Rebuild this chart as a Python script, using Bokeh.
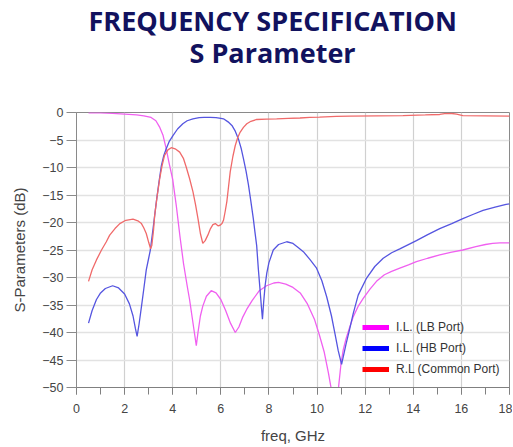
from bokeh.plotting import figure
from bokeh.models import Title, Legend, LegendItem, SingleIntervalTicker, Range1d
from bokeh.embed import file_html
from bokeh.resources import INLINE

# ---- data ----
lb_freq = [0.5, 1.0, 1.5, 2.0, 2.5, 2.8, 3.1, 3.3, 3.45, 3.6, 3.73, 3.85, 4.0, 4.15, 4.3,
           4.45, 4.6, 4.7, 4.8, 4.9, 4.98, 5.05, 5.15, 5.25, 5.4, 5.6, 5.8, 6.0, 6.2, 6.4,
           6.6, 6.75, 6.9, 7.1, 7.3, 7.6, 7.9, 8.2, 8.4, 8.7, 9.0, 9.3, 9.6, 9.9, 10.1,
           10.3, 10.47, 10.6, 10.7, 10.76, 10.82, 10.88, 11.0, 11.09, 11.2, 11.36, 11.5,
           11.7, 11.92, 12.2, 12.47, 12.8, 13.1, 13.44, 13.8, 14.13, 14.6, 15.1, 15.6,
           16.06, 16.6, 17.0, 17.3, 17.6, 18.0]
lb_db = [-0.05, -0.08, -0.15, -0.3, -0.45, -0.6, -0.9, -1.5, -2.6, -4.2, -6.6, -9.2, -12.2,
         -17.0, -22.5, -27.5, -31.5, -34.0, -37.0, -40.0, -42.4, -40.0, -37.0, -35.2, -33.4,
         -32.4, -32.8, -34.0, -36.0, -38.3, -40.0, -39.0, -37.3, -35.6, -34.2, -32.4, -31.5,
         -31.0, -30.9, -31.2, -31.8, -32.8, -34.8, -37.7, -40.5, -43.6, -47.3, -50.5, -54.0,
         -58.0, -55.0, -50.5, -45.5, -43.1, -41.2, -39.0, -37.2, -35.3, -33.8, -32.1, -30.7,
         -29.5, -28.9, -28.3, -27.7, -27.1, -26.5, -25.9, -25.4, -25.0, -24.4, -24.0, -23.8,
         -23.7, -23.7]

hb_freq = [0.5, 0.65, 0.83, 1.0, 1.2, 1.5, 1.75, 2.0, 2.2, 2.35, 2.45, 2.52, 2.6, 2.7, 2.8,
           2.9, 3.0, 3.07, 3.2, 3.32, 3.43, 3.53, 3.63, 3.73, 3.85, 4.01, 4.2, 4.42, 4.6,
           4.84, 5.1, 5.3, 5.56, 5.8, 6.0, 6.11, 6.3, 6.46, 6.6, 6.73, 6.85, 6.94, 7.05,
           7.15, 7.25, 7.35, 7.42, 7.49, 7.56, 7.63, 7.68, 7.73, 7.78, 7.84, 7.91, 8.0,
           8.18, 8.4, 8.74, 9.0, 9.2, 9.43, 9.7, 9.98, 10.2, 10.4, 10.6, 10.74, 10.88,
           11.02, 11.1, 11.2, 11.36, 11.5, 11.71, 12.06, 12.4, 12.75, 13.1, 13.44, 14.13,
           14.6, 15.1, 15.6, 16.06, 16.5, 16.9, 17.4, 17.86, 18.0]
hb_db = [-38.3, -36.0, -34.0, -32.8, -32.0, -31.5, -31.9, -33.0, -34.8, -37.0, -39.3, -40.7,
         -38.5, -35.3, -32.0, -28.6, -26.5, -25.0, -20.5, -16.2, -12.6, -9.6, -7.8, -6.6,
         -5.3, -4.2, -3.0, -2.05, -1.5, -1.15, -0.95, -0.9, -0.88, -0.95, -1.05, -1.15,
         -1.7, -2.35, -3.4, -4.8, -6.6, -8.4, -10.7, -13.2, -16.2, -19.3, -21.8, -24.2,
         -28.5, -32.2, -35.0, -37.6, -34.5, -31.5, -29.2, -27.3, -25.0, -24.0, -23.5,
         -23.8, -24.5, -25.3, -26.7, -28.3, -30.6, -33.5, -37.0, -40.1, -43.3, -45.8,
         -44.2, -42.2, -39.3, -36.6, -33.2, -30.1, -28.0, -26.5, -25.5, -24.8, -23.3,
         -22.2, -21.1, -20.2, -19.3, -18.5, -17.8, -17.2, -16.7, -16.6]

rl_freq = [0.5, 0.65, 0.83, 1.04, 1.24, 1.38, 1.6, 1.8, 2.05, 2.35, 2.55, 2.7, 2.8, 2.9,
           3.0, 3.08, 3.13, 3.2, 3.25, 3.35, 3.46, 3.56, 3.66, 3.8, 3.94, 4.1, 4.29, 4.45,
           4.56, 4.7, 4.84, 4.95, 5.05, 5.15, 5.25, 5.35, 5.46, 5.57, 5.67, 5.77, 5.88,
           5.97, 6.05, 6.11, 6.18, 6.25, 6.32, 6.39, 6.5, 6.6, 6.7, 6.8, 6.94, 7.08, 7.25,
           7.49, 7.9, 8.32, 8.8, 9.29, 9.7, 10.1, 10.8, 11.36, 12.5, 13.57, 14.5, 15.1,
           15.3, 15.6, 15.8, 16.06, 17.0, 18.0]
rl_db = [-30.7, -28.6, -26.8, -25.0, -23.5, -22.3, -21.1, -20.2, -19.6, -19.4, -19.7, -20.2,
         -21.0, -22.0, -23.6, -24.8, -24.2, -21.5, -18.7, -15.3, -12.0, -9.6, -7.8, -6.8,
         -6.4, -6.6, -7.2, -8.4, -9.9, -12.0, -14.4, -16.8, -19.3, -22.0, -23.8, -23.3,
         -22.3, -21.1, -20.4, -20.2, -20.6, -20.5, -20.2, -19.6, -18.0, -16.2, -13.5,
         -10.8, -8.0, -6.0, -4.6, -3.6, -2.7, -2.05, -1.6, -1.27, -1.2, -1.15, -1.05,
         -1.0, -0.9, -0.85, -0.7, -0.67, -0.6, -0.55, -0.45, -0.36, -0.2, -0.18, -0.3,
         -0.55, -0.6, -0.67]

series_labels = ["I.L. (LB Port)", "I.L. (HB Port)", "R.L (Common Port)"]
title_lines = ["FREQUENCY SPECIFICATION", "S Parameter"]
x_label = "freq, GHz"
y_label = "S-Parameters (dB)"

# ---- figure ----
p = figure(width=512, height=446, output_backend="svg", toolbar_location=None,
           x_range=Range1d(0, 18), y_range=Range1d(-50, 0),
           min_border_left=76, min_border_right=3, min_border_top=112,
           min_border_bottom=58, title=None)
p.background_fill_color = "white"
p.border_fill_color = "white"
p.outline_line_color = "#8a8a8a"
p.outline_line_width = 1

title_font = "Open Sans"
spacer = Title(text=" ", text_font_size="1px", standoff=39)
t2 = Title(text=title_lines[1], align="left", offset=113, text_font=title_font,
           text_font_style="bold", text_font_size="27px", text_color="#12125e", standoff=0)
t1 = Title(text=title_lines[0], align="left", offset=12, text_font=title_font,
           text_font_style="bold", text_font_size="27px", text_color="#12125e", standoff=-14)
p.add_layout(spacer, "above")
p.add_layout(t2, "above")
p.add_layout(t1, "above")

# axes
xa = p.xaxis[0]
xa.ticker = SingleIntervalTicker(interval=2, num_minor_ticks=2)
xa.axis_label = x_label
xa.axis_label_text_font = "Liberation Sans"
xa.axis_label_text_font_size = "15px"
xa.axis_label_text_font_style = "normal"
xa.axis_label_text_color = "#444444"
xa.axis_label_standoff = 11
xa.major_label_text_font = "Liberation Sans"
xa.major_label_text_font_size = "12.5px"
xa.major_label_text_color = "#444444"
xa.major_label_standoff = 9
xa.major_tick_out = 7
xa.major_tick_in = 0
xa.minor_tick_out = 7
xa.minor_tick_in = 0
xa.axis_line_color = "#808080"
xa.major_tick_line_color = "#808080"
xa.minor_tick_line_color = "#808080"

ya = p.yaxis[0]
ya.ticker = SingleIntervalTicker(interval=5, num_minor_ticks=0)
ya.axis_label = y_label
ya.axis_label_text_font = "Liberation Sans"
ya.axis_label_text_font_size = "15px"
ya.axis_label_text_font_style = "normal"
ya.axis_label_text_color = "#444444"
ya.axis_label_standoff = 11
ya.major_label_text_font = "Liberation Sans"
ya.major_label_text_font_size = "12.5px"
ya.major_label_text_color = "#444444"
ya.major_label_standoff = 3
ya.major_tick_out = 10
ya.major_tick_in = 0
ya.minor_tick_line_color = None
ya.axis_line_color = "#8a8a8a"
ya.major_tick_line_color = "#8a8a8a"

p.xgrid.grid_line_color = "#d0d0d0"
p.xgrid.grid_line_width = 1.2
p.ygrid.grid_line_color = "#e2e2e2"
p.ygrid.grid_line_width = 1.6

# curves
p.line(lb_freq, lb_db, line_color="#f060f0", line_width=1.3)
p.line(hb_freq, hb_db, line_color="#5555e0", line_width=1.3)
p.line(rl_freq, rl_db, line_color="#f06a6a", line_width=1.3)

# legend swatches (thick pure colours as in the reference), kept outside the visible range
sw_x = [-10, -9]
sw_y = [10, 10]
sw1 = p.line(sw_x, sw_y, line_color="#ff00ff", line_width=5)
sw2 = p.line(sw_x, sw_y, line_color="#0000ff", line_width=5)
sw3 = p.line(sw_x, sw_y, line_color="#ff0000", line_width=5)

legend = Legend(items=[LegendItem(label=series_labels[0], renderers=[sw1]),
                       LegendItem(label=series_labels[1], renderers=[sw2]),
                       LegendItem(label=series_labels[2], renderers=[sw3])],
                location=(286, 8), padding=0, margin=0, spacing=1,
                glyph_width=27, glyph_height=20, label_height=20, label_standoff=7,
                label_text_font="Liberation Sans", label_text_font_size="12px",
                label_text_color="#333333", border_line_color=None,
                background_fill_alpha=0)
p.add_layout(legend, "center")

open("out.html", "w").write(file_html(p, INLINE))
